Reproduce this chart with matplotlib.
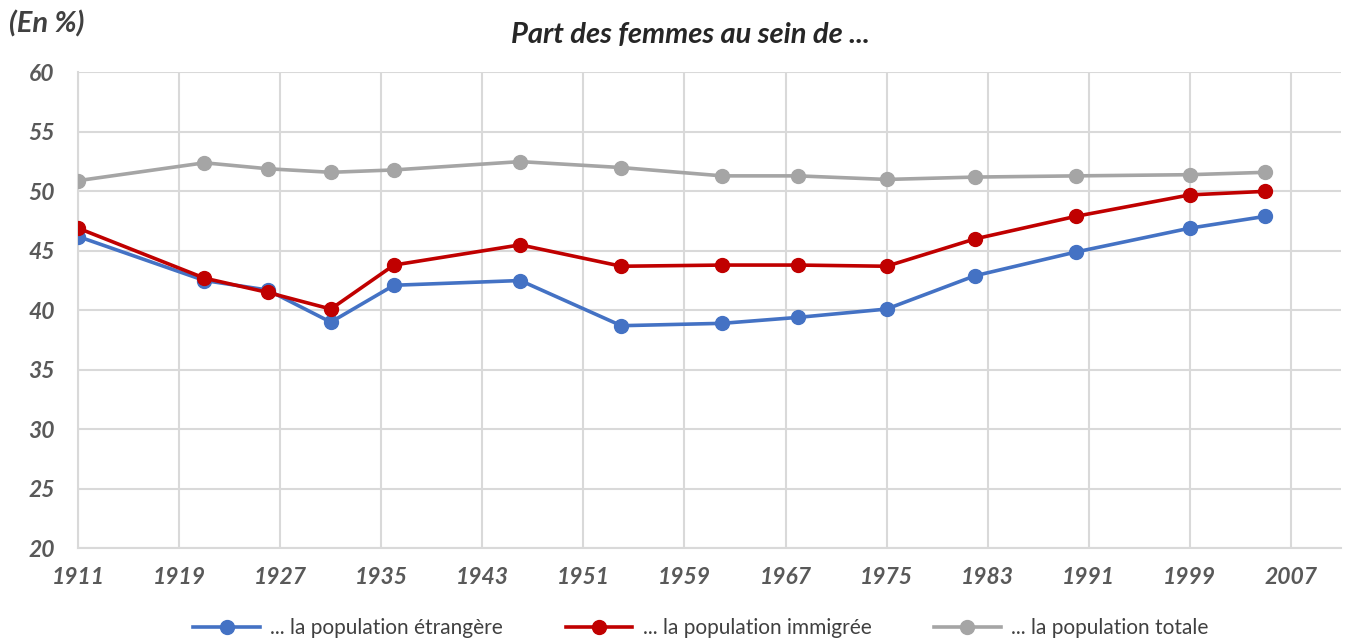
import matplotlib
matplotlib.use("Agg")
import matplotlib.pyplot as plt

plt.rcParams['font.family'] = ['Lato', 'DejaVu Sans']

# census years and share of women (%)
years = [1911, 1921, 1926, 1931, 1936, 1946, 1954, 1962, 1968, 1975, 1982, 1990, 1999, 2005]
etrangere = [46.2, 42.5, 41.7, 39.0, 42.1, 42.5, 38.7, 38.9, 39.4, 40.1, 42.9, 44.9, 46.9, 47.9]
immigree = [46.9, 42.7, 41.5, 40.1, 43.8, 45.5, 43.7, 43.8, 43.8, 43.7, 46.0, 47.9, 49.7, 50.0]
totale = [50.9, 52.4, 51.9, 51.6, 51.8, 52.5, 52.0, 51.3, 51.3, 51.0, 51.2, 51.3, 51.4, 51.6]
xticks = list(range(1911, 2008, 8))
yticks = list(range(20, 61, 5))

fig = plt.figure(figsize=(13.48, 6.41), dpi=100)
ax = fig.add_axes([0.058, 0.145, 0.937, 0.742])

series = [
    (etrangere, "#4472C4", "... la population étrangère"),
    (immigree, "#C00000", "... la population immigrée"),
    (totale, "#A5A5A5", "... la population totale"),
]
for vals, col, lab in series:
    ax.plot(years, vals, color=col, lw=2.6, marker="o", ms=10, label=lab, zorder=3)

ax.set_xlim(1911, 2011)
ax.set_ylim(20, 60)
ax.set_xticks(xticks)
ax.set_yticks(yticks)
ax.grid(True, color="#D9D9D9", lw=1.5)
for s in ["top", "right"]:
    ax.spines[s].set_visible(False)
for s in ["left", "bottom"]:
    ax.spines[s].set_color("#D9D9D9")
    ax.spines[s].set_linewidth(1.5)
ax.tick_params(length=0, labelsize=16.5, labelcolor="#595959")
ax.tick_params(axis="x", pad=14)
ax.tick_params(axis="y", pad=17)
for t in ax.get_xticklabels() + ax.get_yticklabels():
    t.set_fontweight("bold")
    t.set_fontstyle("italic")

fig.text(0.007, 0.962, "(En %)", fontsize=21, fontweight="bold", fontstyle="italic",
         color="#404040", va="center", ha="left")
fig.text(0.512, 0.945, "Part des femmes au sein de ...", fontsize=21, fontweight="bold",
         fontstyle="italic", color="#262626", va="center", ha="center")

fig.legend(loc="lower center", ncol=3, frameon=False, fontsize=15, bbox_to_anchor=(0.52, -0.025),
           handlelength=3.2, handletextpad=0.5, columnspacing=3.0, labelcolor="#404040")

fig.savefig("out.png", dpi=100)
